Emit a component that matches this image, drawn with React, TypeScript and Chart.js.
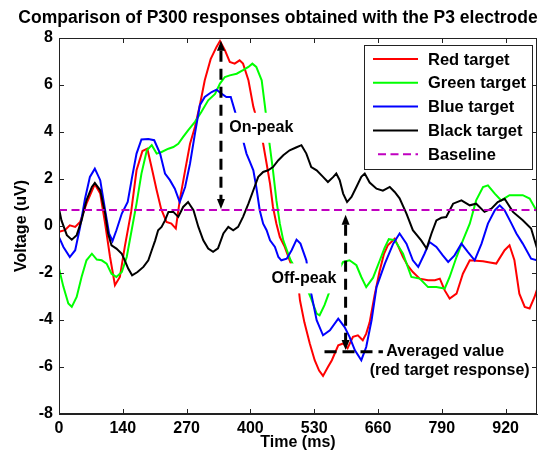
import React, { useEffect, useRef } from 'react';
import { Chart, registerables } from 'chart.js';

Chart.register(...registerables);

const TITLE = 'Comparison of P300 responses obtained with the P3 electrode';
const X_LABEL = 'Time (ms)';
const Y_LABEL = 'Voltage (uV)';
const X_TICK_STEP = 130;
const X_TICK_LABELS = ['0', '140', '270', '400', '530', '660', '790', '920'];
const X_MAX = 974;
const Y_MIN = -8;
const Y_MAX = 8;
const Y_STEP = 2;
const BASELINE = 0.68;

const SERIES_NAMES = ['Red target', 'Green target', 'Blue target', 'Black target', 'Baseline'];

const RED_TARGET: [number, number][] = [
  [0, -0.25], [12, -0.18], [22, 0.03], [33, -0.04], [43, 0.17], [56, 0.95], [73, 1.78], [84, 1.38],
  [94, 0.1], [104, -1.32], [114, -2.52], [124, -2.17], [134, -0.89], [147, 0.6], [158, 2.37], [170, 3.19],
  [180, 3.29], [190, 2.37], [199, 1.52], [208, 0.74], [219, 0.17], [229, 0.1], [238, -0.11], [246, 1.09],
  [257, 2.37], [267, 3.5], [277, 4.21], [287, 5.14], [297, 6.2], [309, 7.1], [321, 7.62], [328, 7.87],
  [338, 7.48], [348, 6.98], [358, 6.91], [368, 7.05], [375, 6.91], [386, 6.2], [396, 5.07], [399, 4.85],
  [416, 3.5], [423, 2.66], [430, 1.8], [436, 0.81], [443, 0.1], [450, -0.47], [460, -0.89], [470, -1.46],
  [487, -2.38], [491, -3.16], [500, -4.1], [511, -5.0], [521, -5.71], [530, -6.15], [538, -6.38], [548, -6.0],
  [556, -5.71], [569, -5.08], [579, -5.0], [588, -5.2], [599, -4.72], [609, -4.65], [619, -4.86], [626, -4.58],
  [633, -4.1], [643, -2.95], [653, -1.95], [662, -1.2], [670, -0.82], [684, -0.54], [692, -0.9], [701, -1.32],
  [711, -1.7], [721, -1.96], [735, -2.24], [752, -2.31], [766, -2.31], [776, -2.24], [786, -2.74], [796, -3.09],
  [810, -2.88], [823, -2.03], [837, -1.46], [850, -1.48], [864, -1.5], [878, -1.55], [891, -1.6], [908, -1.03],
  [918, -0.82], [928, -1.46], [938, -2.88], [949, -3.44], [959, -3.51], [969, -3.02], [974, -2.7],
];

const GREEN_TARGET: [number, number][] = [
  [0, -1.81], [9, -2.59], [19, -3.3], [26, -3.44], [36, -3.02], [46, -2.17], [56, -1.46], [67, -1.18],
  [77, -1.43], [87, -1.46], [97, -1.6], [107, -2.03], [117, -2.17], [128, -1.96], [138, -1.32], [148, -0.18],
  [158, 0.95], [168, 2.23], [179, 3.22], [189, 3.44], [199, 3.08], [209, 3.15], [223, 3.29], [233, 3.36],
  [243, 3.5], [253, 3.79], [263, 4.07], [277, 4.43], [290, 4.85], [304, 5.35], [318, 5.62], [328, 6.06],
  [338, 6.34], [348, 6.41], [362, 6.48], [375, 6.63], [386, 6.77], [394, 6.91], [402, 6.77], [413, 6.2],
  [419, 5.21], [424, 4.36], [428, 3.65], [436, 2.37], [443, 1.09], [450, 0.1], [457, -0.61], [467, -1.18],
  [472, -1.46], [484, -1.88], [504, -2.6], [514, -3.1], [525, -3.73], [531, -3.8], [541, -3.37], [552, -2.74],
  [566, -2.0], [579, -1.53], [592, -1.46], [606, -1.67], [616, -2.17], [626, -2.6], [633, -2.4], [640, -2.2],
  [653, -1.5], [663, -0.95], [672, -0.56], [684, -0.6], [701, -1.18], [718, -2.17], [735, -2.24], [752, -2.6],
  [769, -2.6], [786, -2.66], [796, -2.17], [810, -1.32], [823, -0.61], [837, 0.1], [850, 1.09], [864, 1.66],
  [874, 1.73], [888, 1.38], [901, 1.09], [918, 1.31], [945, 1.31], [959, 1.17], [974, 0.62],
];

const BLUE_TARGET: [number, number][] = [
  [0, -0.47], [9, -0.89], [22, -1.32], [33, -1.03], [43, -0.04], [53, 1.16], [63, 2.09], [73, 2.44],
  [84, 1.95], [94, 0.67], [102, -0.32], [109, -0.64], [117, -0.18], [128, 0.53], [140, 1.02], [149, 2.09],
  [158, 3.08], [168, 3.68], [182, 3.7], [194, 3.65], [206, 3.08], [216, 2.23], [226, 1.95], [236, 1.59],
  [246, 1.02], [257, 1.66], [267, 2.66], [277, 3.93], [287, 5.14], [297, 5.49], [311, 5.7], [321, 5.8],
  [331, 5.63], [341, 5.49], [350, 5.49], [358, 4.92], [375, 3.65], [382, 3.08], [389, 2.73], [396, 2.37],
  [402, 1.66], [409, 0.67], [416, 0.1], [423, -0.18], [430, -0.61], [440, -0.89], [447, -1.32], [453, -1.46],
  [464, -1.39], [474, -1.03], [484, -0.58], [492, -0.75], [504, -1.46], [514, -2.88], [525, -4.01], [538, -4.65],
  [552, -4.44], [569, -3.94], [582, -4.3], [592, -4.72], [603, -5.29], [616, -5.71], [626, -5.15], [637, -4.0],
  [647, -2.6], [664, -1.6], [681, -0.75], [694, -0.32], [708, -0.75], [721, -1.46], [732, -1.74], [745, -1.17],
  [755, -0.68], [769, -0.89], [782, -1.25], [793, -1.53], [806, -1.25], [820, -0.75], [833, -1.1], [847, -1.46],
  [861, -0.75], [874, 0.1], [888, 0.67], [898, 0.88], [908, 0.67], [922, 0.1], [932, -0.32], [945, -0.75],
  [962, -1.39], [974, -1.46],
];

const BLACK_TARGET: [number, number][] = [
  [0, 0.74], [5, 0.24], [16, -0.39], [26, -0.58], [36, -0.39], [46, 0.24], [56, 1.09], [67, 1.66],
  [73, 1.83], [84, 1.52], [94, 0.53], [100, -0.32], [107, -0.82], [117, -0.96], [128, -1.18], [134, -1.46],
  [141, -1.81], [149, -2.1], [160, -1.96], [172, -1.74], [182, -1.46], [189, -1.03], [196, -0.61], [202, -0.18],
  [209, -0.04], [216, 0.24], [223, 0.6], [233, 0.6], [243, 0.39], [253, 0.81], [263, 1.02], [274, 0.67],
  [284, -0.04], [294, -0.61], [304, -0.96], [314, -1.1], [324, -0.95], [335, -0.32], [345, -0.04], [355, -0.18],
  [365, -0.04], [375, 0.39], [386, 0.95], [396, 1.52], [406, 2.09], [416, 2.3], [426, 2.37], [436, 2.51],
  [447, 2.8], [457, 3.01], [470, 3.22], [483, 3.34], [494, 3.44], [504, 3.08], [514, 2.51], [525, 2.37],
  [538, 2.09], [548, 1.87], [559, 2.09], [565, 2.23], [572, 1.95], [579, 1.38], [587, 1.02], [596, 1.24],
  [606, 1.66], [616, 2.09], [623, 2.23], [633, 1.85], [647, 1.59], [660, 1.5], [674, 1.66], [684, 1.45],
  [694, 1.18], [708, 0.53], [721, -0.18], [738, -0.61], [749, -0.96], [759, -0.32], [769, 0.24], [779, 0.35],
  [789, 0.38], [803, 0.95], [820, 1.09], [837, 0.88], [850, 0.95], [867, 0.6], [881, 0.74], [894, 1.02],
  [908, 1.16], [925, 0.6], [945, 0.24], [962, -0.11], [974, -0.95],
];

// Annotations (in data units)
const ON_PEAK_ARROW = { t: 330, from: 0.72, to: 7.88 };
const OFF_PEAK_ARROW = { t: 584, from: -5.28, to: 0.48 };
const AVG_SEGMENT = { t0: 541, t1: 660, v: -5.35 };
const ON_PEAK_LABEL = { text: 'On-peak', t: 347, v: 4.18 };
const OFF_PEAK_LABEL = { text: 'Off-peak', t: 433, v: -2.23 };
const AVG_LABEL_1 = { text: 'Averaged value', t: 667, v: -5.35 };
const AVG_LABEL_2 = { text: '(red target response)', t: 633, v: -6.14 };

const FONT_FAMILY = '"Liberation Sans", Arial, Helvetica, sans-serif';
const COLORS = ['#ff0000', '#00ff00', '#0000ff', '#000000', '#c000c0'];

const toPts = (arr: [number, number][]) => arr.map(([x, y]) => ({ x, y }));

function drawArrow(ctx: CanvasRenderingContext2D, x: number, yFrom: number, yTo: number) {
  const head = 10;
  const hw = 4;
  ctx.save();
  ctx.strokeStyle = '#000';
  ctx.fillStyle = '#000';
  ctx.lineWidth = 3;
  ctx.setLineDash([11, 7]);
  ctx.beginPath();
  ctx.moveTo(x, yTo + head);
  ctx.lineTo(x, yFrom - head);
  ctx.stroke();
  ctx.setLineDash([]);
  ctx.beginPath();
  ctx.moveTo(x, yTo);
  ctx.lineTo(x - hw, yTo + head);
  ctx.lineTo(x + hw, yTo + head);
  ctx.closePath();
  ctx.fill();
  ctx.beginPath();
  ctx.moveTo(x, yFrom);
  ctx.lineTo(x - hw, yFrom - head);
  ctx.lineTo(x + hw, yFrom - head);
  ctx.closePath();
  ctx.fill();
  ctx.restore();
}

const overlayPlugin = {
  id: 'overlay',
  afterDatasetsDraw(chart: any) {
    const { ctx, chartArea, scales } = chart;
    const xs = scales.x;
    const ys = scales.y;
    const px = (t: number) => xs.getPixelForValue(t);
    const py = (v: number) => ys.getPixelForValue(v);
    ctx.save();
    ctx.font = `bold 16px ${FONT_FAMILY}`;
    ctx.textBaseline = 'middle';
    ctx.textAlign = 'left';

    for (const lab of [ON_PEAK_LABEL, OFF_PEAK_LABEL]) {
      const x = px(lab.t);
      const y = py(lab.v);
      const w = ctx.measureText(lab.text).width;
      ctx.fillStyle = '#fff';
      ctx.fillRect(x - 4, y - 15, w + 9, 30);
      ctx.fillStyle = '#000';
      ctx.fillText(lab.text, x, y);
    }
    for (const lab of [AVG_LABEL_1, AVG_LABEL_2]) {
      ctx.fillStyle = '#000';
      ctx.fillText(lab.text, px(lab.t), py(lab.v));
    }

    drawArrow(ctx, px(ON_PEAK_ARROW.t), py(ON_PEAK_ARROW.from), py(ON_PEAK_ARROW.to));
    drawArrow(ctx, px(OFF_PEAK_ARROW.t), py(OFF_PEAK_ARROW.from), py(OFF_PEAK_ARROW.to));

    ctx.strokeStyle = '#000';
    ctx.lineWidth = 3;
    ctx.setLineDash([12, 6]);
    ctx.beginPath();
    ctx.moveTo(px(AVG_SEGMENT.t0), py(AVG_SEGMENT.v));
    ctx.lineTo(px(AVG_SEGMENT.t1), py(AVG_SEGMENT.v));
    ctx.stroke();
    ctx.setLineDash([]);

    const { left, right, top, bottom } = chartArea;
    ctx.strokeStyle = '#222';
    ctx.lineWidth = 1;
    ctx.strokeRect(left + 0.5, top + 0.5, right - left - 1, bottom - top - 1);

    const tl = 5;
    ctx.beginPath();
    for (const tk of xs.ticks) {
      const x = Math.round(px(tk.value)) + 0.5;
      ctx.moveTo(x, bottom);
      ctx.lineTo(x, bottom - tl);
      ctx.moveTo(x, top);
      ctx.lineTo(x, top + tl);
    }
    for (const tk of ys.ticks) {
      const y = Math.round(py(tk.value)) + 0.5;
      ctx.moveTo(left, y);
      ctx.lineTo(left + tl, y);
      ctx.moveTo(right, y);
      ctx.lineTo(right - tl, y);
    }
    ctx.stroke();

    const lx0 = 364, ly0 = 45, lw = 168, lh = 124;
    ctx.fillStyle = '#fff';
    ctx.fillRect(lx0, ly0, lw, lh);
    ctx.strokeStyle = '#222';
    ctx.lineWidth = 1;
    ctx.strokeRect(lx0 + 0.5, ly0 + 0.5, lw, lh);
    ctx.font = `bold 16.5px ${FONT_FAMILY}`;
    chart.data.datasets.forEach((ds: any, i: number) => {
      const y = 59 + i * 23.8;
      ctx.strokeStyle = ds.borderColor;
      ctx.lineWidth = 2;
      ctx.setLineDash(ds.borderDash || []);
      ctx.beginPath();
      ctx.moveTo(ds.borderDash ? 378 : 373, y);
      ctx.lineTo(418, y);
      ctx.stroke();
      ctx.setLineDash([]);
      ctx.fillStyle = '#000';
      ctx.fillText(ds.label, 428, y + 1);
    });
    ctx.restore();
  },
  afterDraw(chart: any) {
    const { ctx } = chart;
    ctx.save();
    ctx.font = `bold 17.5px ${FONT_FAMILY}`;
    ctx.fillStyle = '#000';
    ctx.textAlign = 'center';
    ctx.textBaseline = 'middle';
    ctx.fillText(TITLE, 278, 18);
    ctx.restore();
  },
};

export default function App() {
  const canvasRef = useRef<HTMLCanvasElement | null>(null);

  useEffect(() => {
    const canvas = canvasRef.current;
    if (!canvas) return;
    const font = { family: FONT_FAMILY, size: 16, weight: 'bold' as const };
    const series = [RED_TARGET, GREEN_TARGET, BLUE_TARGET, BLACK_TARGET];
    const datasets: any[] = series.map((s, i) => ({
      label: SERIES_NAMES[i],
      data: toPts(s),
      borderColor: COLORS[i],
      backgroundColor: COLORS[i],
      borderWidth: 2,
      pointRadius: 0,
      tension: 0,
      fill: false,
      order: 5 - i,
    }));
    datasets.push({
      label: SERIES_NAMES[4],
      data: [{ x: 0, y: BASELINE }, { x: X_MAX, y: BASELINE }],
      borderColor: COLORS[4],
      backgroundColor: COLORS[4],
      borderWidth: 2,
      borderDash: [8, 4.5],
      pointRadius: 0,
      fill: false,
      order: 0,
    });

    const chart = new Chart(canvas, {
      type: 'line',
      data: { datasets },
      options: {
        animation: false,
        responsive: false,
        maintainAspectRatio: false,
        devicePixelRatio: 1,
        layout: { padding: { top: 38, right: 8, left: 0, bottom: 0 } },
        plugins: {
          legend: { display: false },
          title: { display: false },
          tooltip: { enabled: false },
        },
        scales: {
          x: {
            type: 'linear',
            min: 0,
            max: X_MAX,
            afterFit: (s: any) => { s.height = 46; },
            afterBuildTicks: (s: any) => {
              s.ticks = X_TICK_LABELS.map((_, i) => ({ value: i * X_TICK_STEP }));
            },
            ticks: {
              callback: (v: any) => X_TICK_LABELS[Math.round(Number(v) / X_TICK_STEP)] ?? '',
              font,
              color: '#000',
              padding: 5,
              maxRotation: 0,
              autoSkip: false,
            },
            grid: { display: false, drawTicks: false },
            border: { display: true, color: '#222' },
            title: {
              display: true,
              text: X_LABEL,
              font,
              color: '#000',
              padding: { top: 0, bottom: 8 },
            },
          },
          y: {
            type: 'linear',
            min: Y_MIN,
            max: Y_MAX,
            afterFit: (s: any) => { s.width = 59; },
            ticks: { stepSize: Y_STEP, font, color: '#000', padding: 6 },
            grid: { display: false, drawTicks: false },
            border: { display: true, color: '#222' },
            title: {
              display: true,
              text: Y_LABEL,
              font,
              color: '#000',
              padding: { top: 12, bottom: 0 },
            },
          },
        },
      } as any,
      plugins: [overlayPlugin],
    });
    return () => chart.destroy();
  }, []);

  return (
    <div style={{ position: 'fixed', left: 0, top: 0, width: 545, height: 460, background: '#fff' }}>
      <canvas ref={canvasRef} width={545} height={460} style={{ width: 545, height: 460, display: 'block' }} />
    </div>
  );
}
